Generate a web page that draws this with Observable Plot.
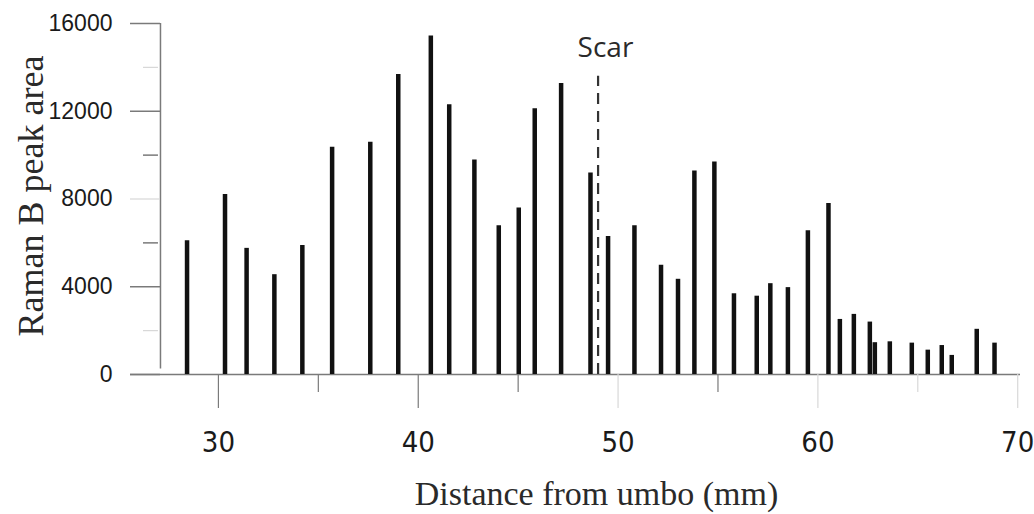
<!DOCTYPE html>
<html>
<head>
<meta charset="utf-8">
<script src="https://cdn.jsdelivr.net/npm/d3@7"></script>
<script src="https://cdn.jsdelivr.net/npm/@observablehq/plot@0.6"></script>
<style>
  html, body { margin: 0; padding: 0; background: #fff; }
  #chart { width: 1034px; height: 514px; }
</style>
</head>
<body>
<div id="chart"></div>
<script>
// Distance from umbo (mm) of each measurement
const distance = [
  28.43, 30.33, 31.41, 32.8, 34.2, 35.69, 37.6, 39.0, 40.63, 41.55,
  42.81, 44.03, 45.03, 45.83, 47.15, 48.62, 49.5, 50.82, 52.15, 53.0,
  53.82, 54.82, 55.8, 56.94, 57.62, 58.5, 59.5, 60.53, 61.1, 61.8,
  62.6, 62.85, 63.6, 64.7, 65.5, 66.2, 66.7, 67.95, 68.84
];
// Raman B peak area
const peakArea = [
  6100, 8200, 5750, 4550, 5880, 10360, 10590, 13670, 15430, 12300,
  9780, 6780, 7590, 12110, 13270, 9190, 6290, 6780, 4980, 4340,
  9280, 9690, 3680, 3570, 4140, 3960, 6550, 7800, 2510, 2740,
  2390, 1450, 1490, 1430, 1110, 1320, 870, 2060, 1430
];
const xTickLabels = [30, 40, 50, 60, 70];
const xLongTicksDark = [30, 40];
const xLongTicksLight = [50, 60, 70];
const xShortTicksDark = [35, 45, 55];
const xShortTicksLight = [65];
const yTickLabels = [0, 4000, 8000, 12000, 16000];
const yMajorDark = [0, 4000, 12000, 16000];
const yMajorLight = [8000];
const yMinorDark = [6000, 10000];
const yMinorLight = [2000, 14000];
const scarPosition = [49.0];
const scarLabel = ["Scar"];
const xTitle = "Distance from umbo (mm)";
const yTitle = "Raman B peak area";

const data = distance.map((d, i) => ({distance: d, area: peakArea[i]}));

const axisColor = "#7a7a7a";
const lightColor = "#d8d8d8";
const sans = "Liberation Sans, Arial, sans-serif";
const narrow = "Liberation Sans Narrow, DejaVu Sans Condensed, Liberation Sans, sans-serif";
const serif = "Liberation Serif, Times New Roman, serif";

const chart = Plot.plot({
  width: 1034,
  height: 514,
  marginTop: 23,
  marginBottom: 140,
  marginLeft: 130,
  marginRight: 14,
  style: {background: "#fff", overflow: "visible"},
  x: {domain: [25.6, 70.14], axis: null},
  y: {domain: [0, 16000], axis: null},
  marks: [
    // x axis baseline
    Plot.ruleY([0], {stroke: axisColor, strokeWidth: 1.5}),
    // y axis line
    Plot.ruleX([27.1], {y1: 250, y2: 16000, stroke: axisColor, strokeWidth: 1.5}),
    // y major ticks
    Plot.ruleY(yMajorDark, {x1: 25.6, x2: 27.1, stroke: axisColor, strokeWidth: 1.5}),
    Plot.ruleY(yMajorLight, {x1: 25.6, x2: 27.1, stroke: lightColor, strokeWidth: 1.2}),
    // y minor ticks
    Plot.ruleY(yMinorDark, {x1: 26.25, x2: 27.0, stroke: axisColor, strokeWidth: 1.5}),
    Plot.ruleY(yMinorLight, {x1: 26.25, x2: 27.0, stroke: lightColor, strokeWidth: 1.2}),
    // x ticks below axis
    Plot.ruleX(xLongTicksDark, {y1: 0, y2: -1550, stroke: axisColor, strokeWidth: 1.2}),
    Plot.ruleX(xLongTicksLight, {y1: 0, y2: -1550, stroke: lightColor, strokeWidth: 1.2}),
    Plot.ruleX(xShortTicksDark, {y1: 0, y2: -820, stroke: axisColor, strokeWidth: 1.2}),
    Plot.ruleX(xShortTicksLight, {y1: 0, y2: -820, stroke: lightColor, strokeWidth: 1.2}),
    // y tick labels
    Plot.text(yTickLabels, {
      x: 25.6, y: d => d, dx: -18, text: d => String(d), textAnchor: "end",
      lineAnchor: "middle", fontSize: 23, fontFamily: sans, fill: "#1a1a1a"
    }),
    // x tick labels
    Plot.text(xTickLabels, {
      x: d => d, y: 0, dy: 68, text: d => String(d), textAnchor: "middle",
      lineAnchor: "middle", fontSize: 29, fontFamily: narrow, fill: "#1a1a1a"
    }),
    // bars
    Plot.ruleX(data, {x: "distance", y1: 0, y2: "area", stroke: "#111", strokeWidth: 4.5}),
    // scar line
    Plot.ruleX(scarPosition, {y1: 0, y2: 13590, stroke: "#333", strokeWidth: 2.2, strokeDasharray: "11,7"}),
    Plot.text(scarLabel, {
      x: d => scarPosition[0] + 0.37, y: 14460, text: d => d, lineAnchor: "bottom",
      fontSize: 28, fontFamily: "Open Sans, sans-serif", fill: "#2a2a2a"
    }),
    // axis titles
    Plot.text([yTitle], {
      frameAnchor: "left", dx: -99, dy: -3, rotate: -90, text: d => d,
      textAnchor: "middle", lineAnchor: "middle", fontSize: 36, fontFamily: serif,
      fill: "#2a2a2a"
    }),
    Plot.text([xTitle], {
      frameAnchor: "bottom", dx: 21, dy: 120, text: d => d,
      textAnchor: "middle", lineAnchor: "middle", fontSize: 34, fontFamily: serif,
      fill: "#2a2a2a"
    })
  ]
});
document.getElementById("chart").appendChild(chart);
</script>
</body>
</html>
